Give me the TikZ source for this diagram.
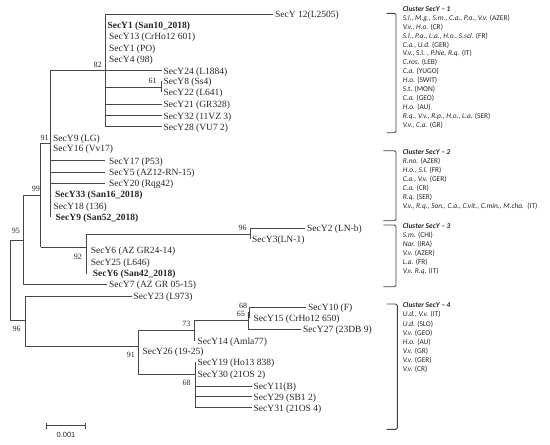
\documentclass[tikz,border=0pt]{standalone}
\usepackage{fontspec}
\setmainfont{Liberation Serif}
\newfontfamily\legfont{Carlito}
\newfontfamily\scalefont{Liberation Sans}
\begin{document}
\begin{tikzpicture}[x=1pt,y=-1pt,
  tr/.style={line width=0.9pt, draw=black!72},
  brk/.style={line width=0.9pt, draw=black!75, rounded corners=1.5pt},
  lab/.style={anchor=base west, inner sep=0pt, text=black!85, font=\fontsize{9.5}{10}\selectfont},
  blab/.style={lab, font=\fontsize{9.5}{10}\selectfont\bfseries},
  bs/.style={anchor=center, inner sep=0pt, text=black!85, font=\fontsize{8}{8}\selectfont},
  leg/.style={anchor=base west, inner sep=0pt, text=black!85, font=\legfont\fontsize{7.4}{8}\selectfont},
  legt/.style={leg, font=\legfont\fontsize{7.4}{8}\selectfont\bfseries\itshape}]
\useasboundingbox (0,0) rectangle (550,445);
% ---------- tree branches ----------
% cluster 1 node
\draw[tr] (105.3,14) -- (105.3,126.7);
\draw[tr] (105.3,14) -- (272.7,14);
\draw[tr] (50,70.7) -- (161.7,70.7);
\draw[tr] (105.3,87) -- (161,87);
\draw[tr] (161,81) -- (161,92);
\draw[tr] (105.3,104.3) -- (162,104.3);
\draw[tr] (105.3,115.7) -- (162,115.7);
\draw[tr] (105.3,126.7) -- (162,126.7);
% node 91 (x=50)
\draw[tr] (50,70.7) -- (50,217.3);
\draw[tr] (40.7,143) -- (50,143);
\draw[tr] (50,160.7) -- (105,160.7);
\draw[tr] (50,172.3) -- (105,172.3);
\draw[tr] (50,183.3) -- (105,183.3);
% node 99 (x=40.7)
\draw[tr] (40.7,143) -- (40.7,247.3);
\draw[tr] (23.3,195) -- (40.7,195);
\draw[tr] (40.7,247.3) -- (86.5,247.3);
% node 92
\draw[tr] (86.5,234) -- (86.5,274);
\draw[tr] (86.5,234) -- (250,234);
% node 96 upper
\draw[tr] (250,228.3) -- (250,239.3);
\draw[tr] (250,228.3) -- (305,228.3);
% node 95
\draw[tr] (23.3,195) -- (23.3,284);
\draw[tr] (23.3,284) -- (106.7,284);
% root
\draw[tr] (10,240) -- (23.3,240);
\draw[tr] (10,240) -- (10,320);
\draw[tr] (10,320) -- (25,320);
% node 96 lower
\draw[tr] (25,296) -- (25,346.7);
\draw[tr] (25,296) -- (131.7,296);
\draw[tr] (25,346.7) -- (138.3,346.7);
% node 91 lower
\draw[tr] (138.3,330.7) -- (138.3,374.3);
\draw[tr] (138.3,330.7) -- (194,330.7);
\draw[tr] (138.3,374.3) -- (195,374.3);
% node 73
\draw[tr] (194,320.7) -- (194,340.7);
\draw[tr] (194,320.7) -- (248.3,320.7);
% nodes 65 / 68
\draw[tr] (248.3,312) -- (248.3,329.3);
\draw[tr] (248.3,329.3) -- (300.7,329.3);
\draw[tr] (248.3,312) -- (249.8,312);
\draw[tr] (249.8,307.3) -- (249.8,317.7);
\draw[tr] (249.8,307.3) -- (306,307.3);
% node 68 lower
\draw[tr] (195,361.7) -- (195,407.7);
\draw[tr] (195,386) -- (251.7,386);
\draw[tr] (195,396.7) -- (251.7,396.7);
\draw[tr] (195,407.7) -- (251.7,407.7);
% ---------- taxon labels ----------
\node[lab]  (t12)  at (275,17.3)   {SecY 12(L2505)};
\node[blab] (t1a)  at (107.3,28.3) {SecY1 (San10\_2018)};
\node[lab]  (t13)  at (109,39.6)   {SecY13 (CrHo12 601)};
\node[lab]  (t1b)  at (109,51)     {SecY1 (PO)};
\node[lab]  (t4)   at (109,62.3)   {SecY4 (98)};
\node[lab]  (t24)  at (163.5,74)   {SecY24 (L1884)};
\node[lab]  (t8)   at (163.5,84.3) {SecY8 (Ss4)};
\node[lab]  (t22)  at (163.5,95.3) {SecY22 (L641)};
\node[lab]  (t21)  at (163.5,107.6){SecY21 (GR328)};
\node[lab]  (t32)  at (163.5,119)  {SecY32 (11VZ 3)};
\node[lab]  (t28)  at (163.5,130)  {SecY28 (VU7 2)};
\node[lab]  (t9a)  at (53,141)     {SecY9 (LG)};
\node[lab]  (t16)  at (53,151.6)   {SecY16 (Vv17)};
\node[lab]  (t17)  at (109,164)    {SecY17 (P53)};
\node[lab]  (t5)   at (109,175.6)  {SecY5 (AZ12-RN-15)};
\node[lab]  (t20)  at (109,186.6)  {SecY20 (Rqg42)};
\node[blab] (t33)  at (55,197.6)   {SecY33 (San16\_2018)};
\node[lab]  (t18)  at (53.5,209)   {SecY18 (136)};
\node[blab] (t9b)  at (55.5,220.6) {SecY9 (San52\_2018)};
\node[lab]  (t2)   at (307,231.6)  {SecY2 (LN-b)};
\node[lab]  (t3)   at (252,242.6)  {SecY3(LN-1)};
\node[lab]  (t6a)  at (90.7,253.3) {SecY6 (AZ GR24-14)};
\node[lab]  (t25)  at (90.7,265)   {SecY25 (L646)};
\node[blab] (t6b)  at (92.7,276.6) {SecY6 (San42\_2018)};
\node[lab]  (t7)   at (109,287.3)  {SecY7 (AZ GR 05-15)};
\node[lab]  (t23)  at (133.5,299.3){SecY23 (L973)};
\node[lab]  (t10)  at (308,310.6)  {SecY10 (F)};
\node[lab]  (t15)  at (253.3,321)  {SecY15 (CrHo12 650)};
\node[lab]  (t27)  at (303,332.6)  {SecY27 (23DB 9)};
\node[lab]  (t14)  at (197.5,344.3){SecY14 (Amla77)};
\node[lab]  (t26)  at (142.3,354.8){SecY26 (19-25)};
\node[lab]  (t19)  at (197.5,365.3){SecY19 (Ho13 838)};
\node[lab]  (t30)  at (197.5,377.6){SecY30 (21OS 2)};
\node[lab]  (t11)  at (253.5,389.3){SecY11(B)};
\node[lab]  (t29)  at (253.5,400)  {SecY29 (SB1 2)};
\node[lab]  (t31)  at (253.5,411)  {SecY31 (21OS 4)};
% ---------- bootstrap values ----------
\node[bs] (b82)  at (97.5,65)   {82};
\node[bs] (b61)  at (152.5,81)  {61};
\node[bs] (b91a) at (44.7,137.7){91};
\node[bs] (b99)  at (35.8,189.3){99};
\node[bs] (b95)  at (15.8,230.7){95};
\node[bs] (b92)  at (78,256.7)  {92};
\node[bs] (b96a) at (242.5,227.7){96};
\node[bs] (b96b) at (16.7,329.3){96};
\node[bs] (b73)  at (186.3,324) {73};
\node[bs] (b68a) at (243,305.7) {68};
\node[bs] (b65)  at (240.8,314.3){65};
\node[bs] (b91b) at (130.8,355) {91};
\node[bs] (b68b) at (186.7,382.7){68};
% ---------- scale bar ----------
\coordinate (sL) at (46.7,425.7);
\coordinate (sR) at (85,425.7);
\draw[tr] (sL) -- (sR);
\draw[tr] ([yshift=-3pt]sL) -- ([yshift=3pt]sL);
\draw[tr] ([yshift=-3pt]sR) -- ([yshift=3pt]sR);
\node[inner sep=0pt, text=black!85, font=\scalefont\fontsize{7.5}{8}\selectfont] (sc) at (66,435) {0.001};
% ---------- brackets ----------
\draw[brk] (386.7,13.3) -- (396,13.3) -- (396,132.7) -- (386.7,132.7);
\draw[brk] (383.3,150.7) -- (396,150.7) -- (396,220.7) -- (383.3,220.7);
\draw[brk] (383.3,225) -- (396,225) -- (396,286.7) -- (383.3,286.7);
\draw[brk] (386.7,304) -- (397.3,304) -- (397.3,429.3) -- (386.7,429.3);
% ---------- legends ----------
\node[legt] (c1)  at (402.7,11.7) {Cluster SecY – 1};
\node[leg] (c1a) at (402.7,20.1)  {\textit{S.l., M.g., S.m., C.a., P.a., V.v.} (AZER)};
\node[leg] (c1b) at (402.7,29.1)  {\textit{V.v., H.o.} (CR)};
\node[leg] (c1c) at (402.7,38.1)  {\textit{S.l., P.a., L.a., H.o., S.scl.} (FR)};
\node[leg] (c1d) at (402.7,47.1)  {\textit{C.a., U.d.} (GER)};
\node[leg] (c1e) at (402.7,55.7)  {V.v., S.l. , \textit{P.hie, R.q.} (IT)};
\node[leg] (c1f) at (402.7,64.7)  {\textit{C.ros.} (LEB)};
\node[leg] (c1g) at (402.7,73.7)  {\textit{C.a.} (YUGO)};
\node[leg] (c1h) at (402.7,82.7)  {\textit{H.o.} (SWIT)};
\node[leg] (c1i) at (402.7,91.7)  {S.t. (MON)};
\node[leg] (c1j) at (402.7,100.7) {\textit{C.a.} (GEO)};
\node[leg] (c1k) at (402.7,109.7) {\textit{H.o.} (AU)};
\node[leg] (c1l) at (402.7,118.7) {\textit{R.q., V.v., R.p., H.o., L.a.} (SER)};
\node[leg] (c1m) at (402.7,127.7) {\textit{V.v., C.a.} (GR)};
\node[legt] (c2)  at (402.7,154.7) {Cluster SecY – 2};
\node[leg] (c2a) at (402.7,163.4) {\textit{R.no.} (AZER)};
\node[leg] (c2b) at (402.7,172.4) {\textit{H.o., S.l.} (FR)};
\node[leg] (c2c) at (402.7,181.4) {\textit{C.a., V.v.} (GER)};
\node[leg] (c2d) at (402.7,190.4) {\textit{C.a.} (CR)};
\node[leg] (c2e) at (402.7,199.1) {\textit{R.q.} (SER)};
\node[leg] (c2f) at (402.7,208.1) {\textit{V.v., R.q., Son., C.a., C.vit., C.min., M.cha.}\ \ (IT)};
\node[legt] (c3)  at (402.7,228.4) {Cluster SecY – 3};
\node[leg] (c3a) at (402.7,237.4) {\textit{S.m.} (CHI)};
\node[leg] (c3b) at (402.7,246.1) {\textit{Nar.} (IRA)};
\node[leg] (c3c) at (402.7,255.1) {\textit{V.v.} (AZER)};
\node[leg] (c3d) at (402.7,264.1) {\textit{L.a.} (FR)};
\node[leg] (c3e) at (402.7,273.1) {\textit{V.v. R.q.} (IT)};
\node[legt] (c4)  at (402.7,307.4) {Cluster SecY – 4};
\node[leg] (c4a) at (402.7,316.7) {\textit{U.d., V.v.} (IT)};
\node[leg] (c4b) at (402.7,326.1) {\textit{U.d.} (SLO)};
\node[leg] (c4c) at (402.7,335.1) {\textit{V.v.} (GEO)};
\node[leg] (c4d) at (402.7,344.1) {\textit{H.o.} (AU)};
\node[leg] (c4e) at (402.7,353.1) {\textit{V.v.} (GR)};
\node[leg] (c4f) at (402.7,362.1) {\textit{V.v.} (GER)};
\node[leg] (c4g) at (402.7,371.1) {\textit{V.v.} (CR)};
\end{tikzpicture}
\end{document}
